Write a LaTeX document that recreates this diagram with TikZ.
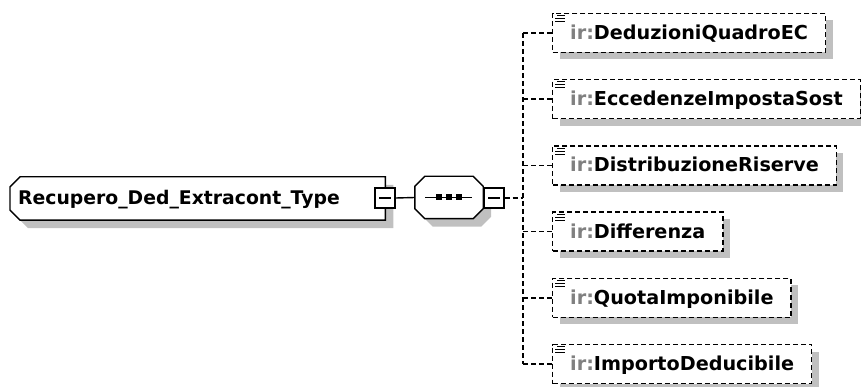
\documentclass[tikz,border=0pt]{standalone}
\usepackage{fontspec}
\setmainfont{DejaVu Sans}
\usetikzlibrary{shadows,calc,backgrounds}
\definecolor{shadowgray}{RGB}{192,192,192}
\definecolor{prefixgray}{RGB}{128,128,128}
\begin{document}
\begin{tikzpicture}[x=1pt,y=-1pt,
  lbl/.style={font=\fontsize{18.8}{20}\selectfont\bfseries, text height=13pt, text depth=0pt},
  childlbl/.style={font=\fontsize{19.2}{20}\selectfont\bfseries, text height=13pt, text depth=0pt},
  shadowed/.style={drop shadow={shadow xshift=8pt, shadow yshift=-8pt, fill=shadowgray, opacity=1}},
  outline/.style={draw, line width=1.4pt, fill=white, shadowed},
  mainbox/.style={lbl, minimum height=43pt, inner xsep=8pt, inner ysep=0pt, text width=359pt, align=left},
  seqbox/.style={minimum width=68pt, minimum height=42pt, inner sep=0pt},
  minusbox/.style={draw, line width=1.4pt, fill=white, minimum width=20pt, minimum height=20pt, inner sep=0pt},
  childbox/.style={childlbl, draw, dash pattern=on 5pt off 3pt, line width=1.4pt, fill=white,
     minimum height=39pt, inner xsep=17.5pt, inner ysep=0pt, anchor=west,
     drop shadow={shadow xshift=7pt, shadow yshift=-7pt, fill=shadowgray, opacity=1}},
  conn/.style={line width=1.4pt},
  dconn/.style={line width=1.4pt, dash pattern=on 5pt off 3pt},
  iconline/.style={line width=1pt}
]
\useasboundingbox (0,0) rectangle (861,387);
\clip (0,0) rectangle (861,387);

% main element
\node[mainbox, anchor=west] (main) at (10,198.5) {Recupero\_Ded\_Extracont\_Type};
\begin{scope}[on background layer]
\draw[outline] ($(main.north west)+(10,0)$) -- (main.north east) -- (main.south east)
  -- ($(main.south west)+(10,0)$) -- ($(main.south west)+(0,-10)$) -- ($(main.north west)+(0,10)$) -- cycle;
\end{scope}
\node[minusbox] (m1) at (385,198) {};
\draw[line width=1.3pt] ([xshift=-6pt]m1.center) -- ([xshift=6pt]m1.center);

% sequence
\node[seqbox] (seq) at (449,197.5) {};
\begin{scope}[on background layer]
\draw[outline] ($(seq.north west)+(10,0)$) -- ($(seq.north east)+(-10,0)$) -- ($(seq.north east)+(0,10)$)
  -- ($(seq.south east)+(0,-10)$) -- ($(seq.south east)+(-10,0)$) -- ($(seq.south west)+(10,0)$)
  -- ($(seq.south west)+(0,-10)$) -- ($(seq.north west)+(0,10)$) -- cycle;
\end{scope}
\draw[line width=1.3pt] ([xshift=-24pt]seq.center) -- ([xshift=23pt]seq.center);
\foreach \dx in {-10,0,10}
  \fill ([xshift=\dx pt]seq.center) ++(-3,-3) rectangle ++(6,6);
\node[minusbox] (m2) at (494,198) {};
\draw[line width=1.3pt] ([xshift=-6pt]m2.center) -- ([xshift=6pt]m2.center);

\draw[conn] (m1.east) -- (seq.west);

% children
\coordinate (bus) at (523,198);
\foreach \i/\name [count=\k from 0] in {c1/DeduzioniQuadroEC,c2/EccedenzeImpostaSost,c3/DistribuzioneRiserve,c4/Differenza,c5/QuotaImponibile,c6/ImportoDeducibile}{
  \node[childbox] (\i) at (552,{33+66.2*\k}) {\textcolor{prefixgray}{ir:}\name};
  \draw[iconline] ([shift={(5,3)}]\i.north west) -- ++(8,0);
  \draw[iconline] ([shift={(3,6)}]\i.north west) -- ++(10,0);
  \draw[iconline] ([shift={(3,9)}]\i.north west) -- ++(10,0);
}
\draw[dconn] (m2.east) -- (bus);
\draw[dconn] (bus |- c1.west) -- (bus |- c6.west);
\foreach \i in {c1,c2,c3,c4,c5,c6}
  \draw[dconn] (bus |- \i.west) -- (\i.west);
\end{tikzpicture}
\end{document}
